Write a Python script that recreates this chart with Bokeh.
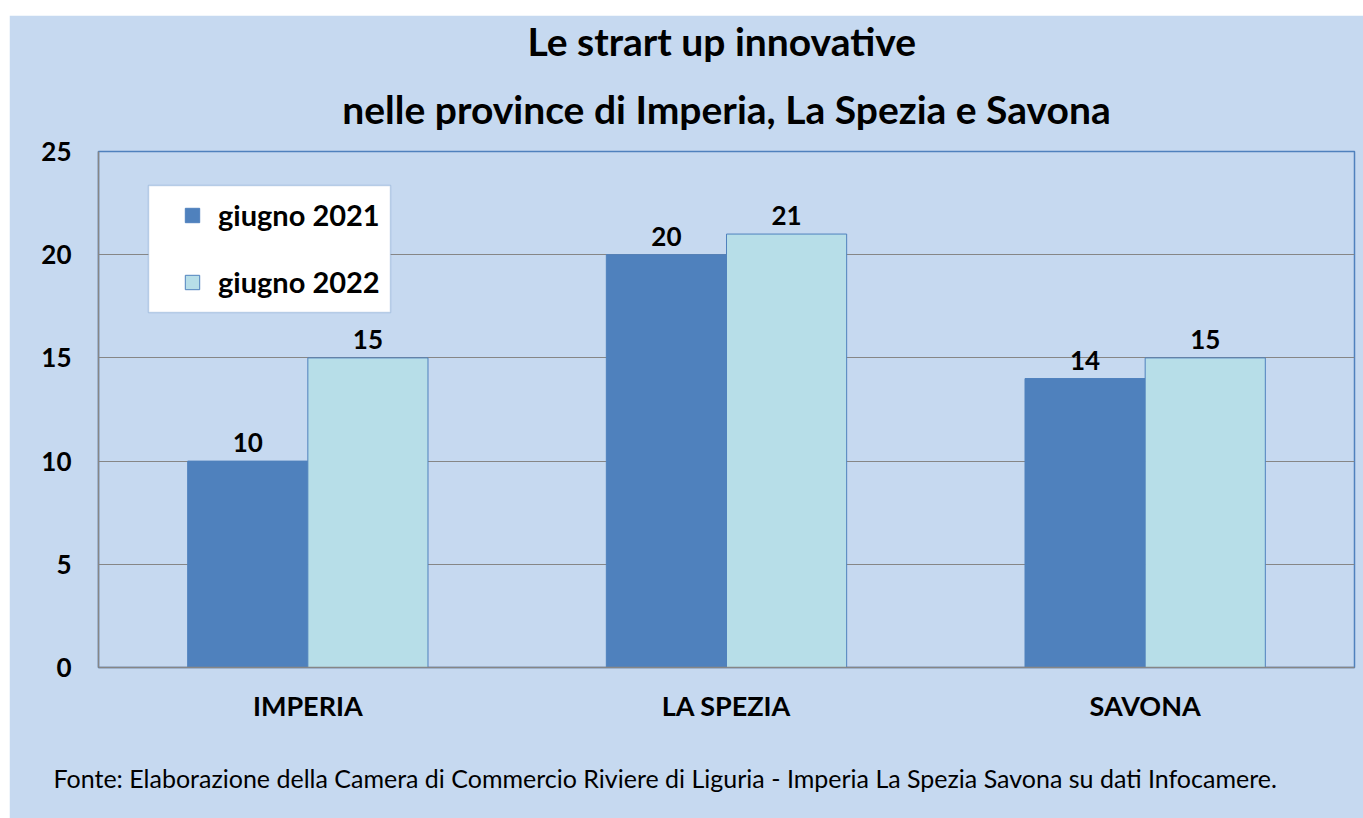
from bokeh.plotting import figure
from bokeh.models import (FactorRange, Range1d, ColumnDataSource, LabelSet, Legend, LegendItem,
                          Title, BoxAnnotation, SingleIntervalTicker, Spacer)
from bokeh.transform import dodge
from bokeh.layouts import column, row
from bokeh.core.properties import value
from bokeh.embed import file_html
from bokeh.resources import INLINE

categories = ["IMPERIA", "LA SPEZIA", "SAVONA"]
series_names = ["giugno 2021", "giugno 2022"]
values_2021 = [10, 20, 14]
values_2022 = [15, 21, 15]

title_line1 = "Le strart up  innovative"
title_line2 = "nelle province di Imperia, La Spezia e Savona"
footer = "Fonte: Elaborazione della Camera di Commercio Riviere di Liguria - Imperia La Spezia Savona su dati Infocamere."

BG = "#C6D9F0"
DARK = "#4F81BD"
LIGHT = "#B7DEE8"
FONT = "Lato"

src = ColumnDataSource(dict(cat=categories, v1=values_2021, v2=values_2022,
                            t1=[str(v) for v in values_2021], t2=[str(v) for v in values_2022]))

p = figure(x_range=FactorRange(*categories), y_range=Range1d(0, 25),
           frame_width=1256, frame_height=516,
           min_border_left=89, min_border_right=9, min_border_top=135, min_border_bottom=152,
           output_backend="svg", toolbar_location=None)
p.background_fill_color = BG
p.border_fill_color = BG
p.outline_line_color = DARK
p.outline_line_width = 1.5

bw = 0.287
off = 0.1435
r1 = p.vbar(x=dodge("cat", -off, range=p.x_range), top="v1", width=bw, source=src,
            fill_color=DARK, line_color=DARK, line_width=1)
r2 = p.vbar(x=dodge("cat", off, range=p.x_range), top="v2", width=bw, source=src,
            fill_color=LIGHT, line_color=DARK, line_width=1)

for tcol, ycol, o in [("t1", "v1", -off), ("t2", "v2", off)]:
    p.add_layout(LabelSet(x=dodge("cat", o, range=p.x_range), y=ycol, text=tcol, source=src,
                          text_align="center", text_baseline="alphabetic", y_offset=9,
                          text_font=value(FONT), text_font_style="bold", text_font_size="26px",
                          text_color="black"))

# grid & axes
p.xgrid.grid_line_color = None
p.ygrid.grid_line_color = "#868686"
p.ygrid.grid_line_width = 1
p.yaxis.ticker = SingleIntervalTicker(interval=5)
for ax in (p.xaxis, p.yaxis):
    ax.axis_line_color = "#868686"
    ax.axis_line_width = 1.5
    ax.major_tick_line_color = None
    ax.minor_tick_line_color = None
    ax.major_label_text_font = FONT
    ax.major_label_text_font_style = "bold"
    ax.major_label_text_color = "black"
p.yaxis.major_label_text_font_size = "26px"
p.yaxis.major_label_standoff = 21
p.xaxis.major_label_text_font_size = "27px"
p.xaxis.major_label_standoff = 15

# legend box
ppx = 3 / 1256.0
ppy = 25 / 516.0
p.add_layout(BoxAnnotation(left=(148 - 98) * ppx, right=(390 - 98) * ppx,
                           top=25 - (184 - 150) * ppy, bottom=25 - (311 - 150) * ppy,
                           fill_color="white", fill_alpha=1, line_color=DARK, line_width=1.5,
                           level="annotation"))
legend = Legend(items=[LegendItem(label=series_names[0], renderers=[r1]),
                       LegendItem(label=series_names[1], renderers=[r2])],
                location=(85, 368), background_fill_alpha=0, border_line_color=None,
                padding=0, margin=0, spacing=32, label_height=30, glyph_width=18, glyph_height=18,
                label_standoff=17, label_text_font=FONT, label_text_font_style="bold",
                label_text_font_size="29px", label_text_color="black")
p.add_layout(legend)

# titles
p.add_layout(Title(text=title_line2, align="center", text_font=FONT, text_font_style="bold",
                   text_font_size="39px", text_color="black", standoff=40), "above")
p.add_layout(Title(text=title_line1, align="center", text_font=FONT, text_font_style="bold",
                   text_font_size="39px", text_color="black", standoff=0), "above")
p.add_layout(Title(text=footer, align="left", offset=-45, text_font=FONT, text_font_style="normal",
                   text_font_size="25px", text_color="black", standoff=73), "below")

layout = row(Spacer(width=9, height=818), column(Spacer(height=15, width=1354), p, spacing=0), spacing=0)
open("out.html", "w").write(file_html(layout, INLINE))
